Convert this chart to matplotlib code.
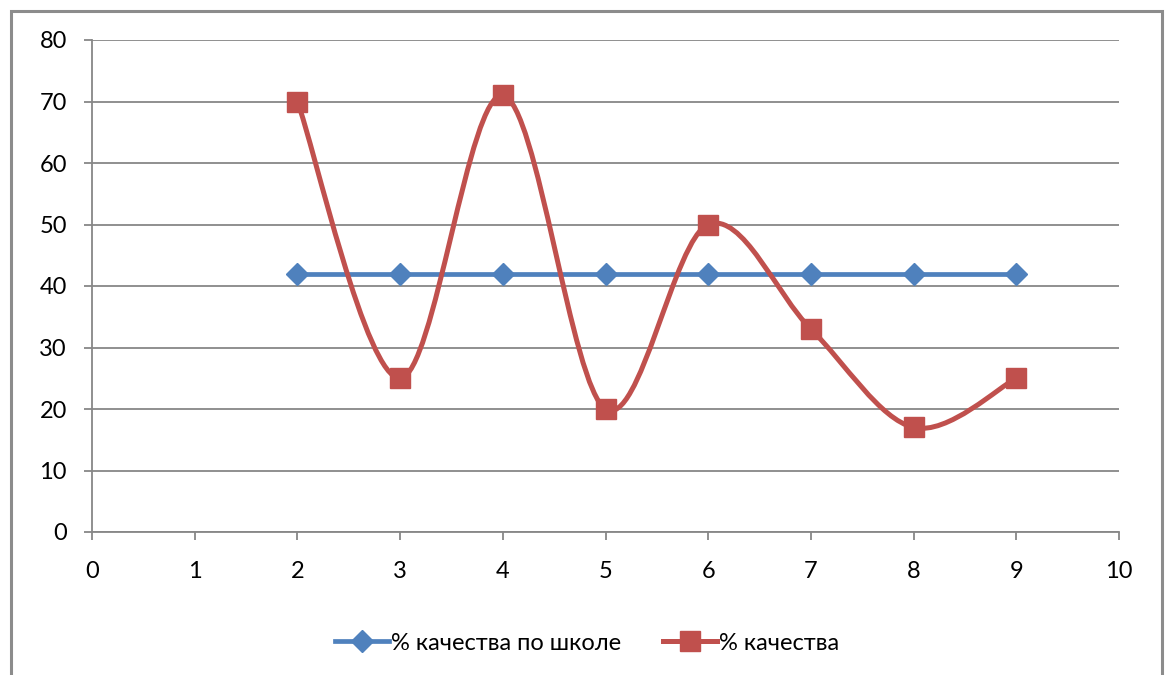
#!/usr/bin/env python3

import matplotlib.pyplot as plt
from matplotlib.path import Path
from matplotlib.patches import PathPatch, Rectangle
from matplotlib.lines import Line2D

# data
x_vals = [2, 3, 4, 5, 6, 7, 8, 9]
school_pct = [42, 42, 42, 42, 42, 42, 42, 42]
class_pct = [70, 25, 71, 20, 50, 33, 17, 25]
label_school = "% качества по школе"
label_class = "% качества"

BLUE = "#4F81BD"
RED = "#C0504D"
GRID = "#878787"
FS = 17

plt.rcParams["font.family"] = ["Lato", "Liberation Sans", "DejaVu Sans"]


def smooth_path(xs, ys):
    # Excel-like smoothed line: cubic Bezier through the points
    pts = list(zip(xs, ys))
    n = len(pts)
    verts = [pts[0]]
    codes = [Path.MOVETO]
    for i in range(n - 1):
        p0 = pts[i - 1] if i > 0 else pts[i]
        p1 = pts[i]
        p2 = pts[i + 1]
        p3 = pts[i + 2] if i + 2 < n else pts[i + 1]
        c1 = (p1[0] + (p2[0] - p0[0]) / 6, p1[1] + (p2[1] - p0[1]) / 6)
        c2 = (p2[0] - (p3[0] - p1[0]) / 6, p2[1] - (p3[1] - p1[1]) / 6)
        verts += [c1, c2, p2]
        codes += [Path.CURVE4] * 3
    return Path(verts, codes)


fig = plt.figure(figsize=(11.68, 6.75), dpi=100)
ax = fig.add_axes([92 / 1168, 1 - 532 / 675, (1119 - 92) / 1168, (532 - 40) / 675])

ax.plot(x_vals, school_pct, color=BLUE, lw=3.4, marker="D", ms=11,
        zorder=3, solid_capstyle="butt")
ax.add_patch(PathPatch(smooth_path(x_vals, class_pct), fill=False,
                       edgecolor=RED, lw=3.6, zorder=4))
ax.plot(x_vals, class_pct, ls="none", marker="s", ms=14, color=RED, zorder=5)

ax.set_xlim(0, 10)
ax.set_ylim(0, 80)
ax.set_xticks(range(0, 11))
ax.set_yticks(range(0, 81, 10))
ax.grid(axis="y", color=GRID, lw=1.3)
ax.set_axisbelow(True)

for side in ["top", "right"]:
    ax.spines[side].set_visible(False)
for side in ["left", "bottom"]:
    ax.spines[side].set_color(GRID)
    ax.spines[side].set_linewidth(1.3)
ax.tick_params(axis="both", colors=GRID, width=1.3, length=6,
               labelcolor="black", labelsize=FS)
ax.tick_params(axis="y", pad=12)
ax.tick_params(axis="x", pad=15)

handles = [
    Line2D([], [], color=BLUE, lw=3.4, marker="D", ms=11),
    Line2D([], [], color=RED, lw=3.6, marker="s", ms=14),
]
fig.legend(handles, [label_school, label_class], loc="center",
           bbox_to_anchor=(587 / 1168, 1 - 643 / 675), ncol=2, frameon=False,
           fontsize=FS, handlelength=2.3, handletextpad=0.1,
           columnspacing=1.75)

# outer chart border
fig.patches.append(Rectangle((11 / 1168, -0.05), (1162 - 11) / 1168,
                             1 - 11 / 675 + 0.05, transform=fig.transFigure,
                             fill=False, edgecolor="#8C8C8C", lw=2.2))

fig.savefig("out.png", dpi=100)
plt.close(fig)
